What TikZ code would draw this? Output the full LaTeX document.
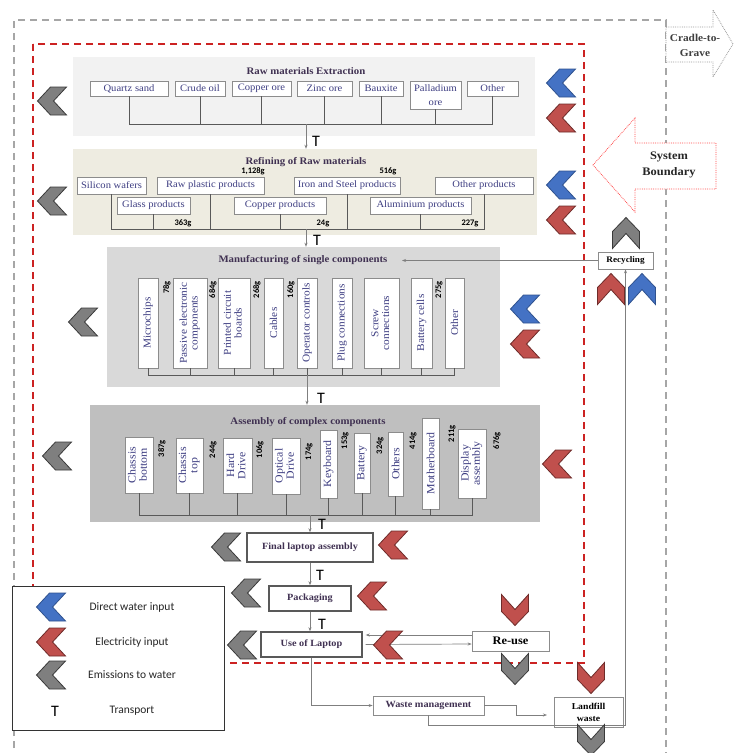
\documentclass[tikz,border=0pt]{standalone}
\usepackage{fontspec}
\usepackage{graphicx}
\setmainfont{Liberation Serif}[FakeStretch=1.08]
\newfontfamily\calib{Carlito}
\usetikzlibrary{arrows.meta}
\definecolor{rawf}{HTML}{F2F2F2}
\definecolor{reff}{HTML}{EEECE1}
\definecolor{manf}{HTML}{D9D9D9}
\definecolor{asmf}{HTML}{BFBFBF}
\definecolor{itemc}{RGB}{62,62,130}
\definecolor{titlec}{RGB}{64,49,82}
\definecolor{boxg}{HTML}{8C8C8C}
\definecolor{busc}{HTML}{595959}
\definecolor{flowc}{HTML}{7F7F7F}
\definecolor{wblue}{HTML}{4472C4}
\definecolor{wblued}{HTML}{2F528F}
\definecolor{ered}{HTML}{C0504D}
\definecolor{ereddk}{HTML}{6E2B29}
\definecolor{egray}{HTML}{7F7F7F}
\definecolor{egraydk}{HTML}{3A3A3A}
\definecolor{bred}{HTML}{CC2222}
\definecolor{bgray}{HTML}{A6A6A6}
\renewcommand\arraystretch{0.9}
\newcommand\vt[1]{\rotatebox{90}{\begin{tabular}{@{}c@{}}#1\end{tabular}}}
\newcommand\chevL[2]{\draw[#1, shift={#2}] (-14.5,0) -- (-1.5,-14) -- (14.5,-14) -- (1.5,0) -- (14.5,14) -- (-1.5,14) -- cycle;}
\newcommand\chevD[2]{\draw[#1, shift={#2}] (-13.5,-15.5) -- (0,-0.5) -- (13.5,-15.5) -- (13.5,1.5) -- (0,15.5) -- (-13.5,1.5) -- cycle;}
\newcommand\chevU[2]{\draw[#1, shift={#2}] (-13.5,15.5) -- (0,0.5) -- (13.5,15.5) -- (13.5,-1.5) -- (0,-15.5) -- (-13.5,-1.5) -- cycle;}
\tikzset{
 stage/.style={inner sep=0pt, draw=none},
 item/.style={draw=boxg, line width=0.6pt, fill=white, inner sep=0pt, text=itemc, align=center, font=\fontsize{9.8}{11}\selectfont},
 vitem/.style={draw=boxg, line width=0.6pt, fill=white, inner sep=0pt, text=itemc, font=\fontsize{10.5}{12}\selectfont},
 vitemB/.style={vitem, font=\fontsize{11}{12.5}\selectfont},
 ttl/.style={inner sep=0pt, text=titlec, font=\bfseries\fontsize{10}{12}\selectfont},
 num/.style={inner sep=0pt, font=\calib\bfseries\fontsize{8.5}{10}\selectfont},
 vnum/.style={num, rotate=90, anchor=east},
 tlab/.style={inner sep=0pt, font=\calib\fontsize{16}{16}\selectfont},
 bus/.style={draw=busc, line width=0.7pt},
 flow/.style={draw=flowc, line width=0.7pt, -{Stealth[length=4pt,width=3pt]}},
 mainbox/.style={draw=busc, line width=1.4pt, fill=white, inner sep=0pt, text=titlec, font=\bfseries\fontsize{9.5}{11}\selectfont},
 sidebox/.style={draw=boxg, line width=0.7pt, fill=white, inner sep=0pt, align=center},
 wchev/.style={fill=wblue, draw=wblued, line width=0.8pt},
 echev/.style={fill=ered, draw=ereddk, line width=0.8pt},
 gchev/.style={fill=egray, draw=egraydk, line width=0.8pt},
 leglab/.style={inner sep=0pt, font=\calib\fontsize{11.5}{13}\selectfont, text=black!85},
 graydash/.style={draw=bgray, line width=2pt, dash pattern=on 7pt off 5pt},
 reddash/.style={draw=bred, line width=1.8pt, dash pattern=on 7pt off 5pt},
}
\begin{document}
\begin{tikzpicture}[x=1pt,y=-1pt]
\useasboundingbox (0,0) rectangle (734,753);
\fill[white] (0,0) rectangle (734,753);
% boundaries
\draw[graydash] (14,760) -- (14,20) -- (666,20) -- (666,760);
\draw[reddash] (33,44) rectangle (584,663);
% Cradle-to-Grave arrow
\draw[draw=gray!80, densely dotted, line width=0.8pt, fill=white] (666,27) -- (713,27) -- (713,10) -- (733,44) -- (713,77) -- (713,62) -- (666,62) -- cycle;
\node[inner sep=0pt, align=center, text=black!75, font=\bfseries\fontsize{10.5}{15}\selectfont] (cg) at (695,45) {Cradle-to-\\Grave};
% System Boundary arrow
\draw[draw=red!70, densely dotted, line width=0.8pt, fill=white] (593,165) -- (635,118) -- (635,143) -- (716,143) -- (716,189) -- (635,189) -- (635,212) -- cycle;
\node[inner sep=0pt, align=center, text=black!85, font=\bfseries\fontsize{11.5}{16}\selectfont] (sb) at (669,165) {System\\Boundary};

% ---------- Raw materials ----------
\node[stage, fill=rawf, minimum width=462, minimum height=79] (raw) at (304,96.5) {};
\node[ttl] (rawt) at (306,71) {Raw materials Extraction};
\node[item, minimum width=78, minimum height=15] (qs) at (129,88.5) {Quartz sand};
\node[item, minimum width=50, minimum height=15] (co) at (200,88.5) {Crude oil};
\node[item, minimum width=59, minimum height=15] (cpo) at (261.5,88.5) {Copper ore};
\node[item, minimum width=55, minimum height=15] (zo) at (324.5,88.5) {Zinc ore};
\node[item, minimum width=44, minimum height=15] (bx) at (381,88.5) {Bauxite};
\node[item, minimum width=51, minimum height=28, font=\fontsize{9.8}{14}\selectfont] (pd) at (435.5,95) {Palladium\\ore};
\node[item, minimum width=51, minimum height=15] (oth) at (492.5,88.5) {Other};
\coordinate (rawbus) at (306,124);
\foreach \n in {qs,co,cpo,zo,bx,pd,oth} \draw[bus] (\n.south) |- (rawbus);

% ---------- Refining ----------
\node[stage, fill=reff, minimum width=464, minimum height=86] (ref) at (305,192) {};
\node[ttl] (reft) at (306,162) {Refining of Raw materials};
\node[item, minimum width=69, minimum height=17] (sw) at (111.5,185.5) {Silicon wafers};
\node[item, minimum width=107, minimum height=17] (rpp) at (210.5,185.5) {Raw plastic products};
\node[item, minimum width=106, minimum height=17] (isp) at (347,185.5) {Iron and Steel products};
\node[item, minimum width=98, minimum height=17] (op) at (484,185.5) {Other products};
\node[item, minimum width=73, minimum height=17] (gp) at (153.5,205.5) {Glass products};
\node[item, minimum width=92, minimum height=17] (cp) at (280,205.5) {Copper products};
\node[item, minimum width=101, minimum height=17] (ap) at (420.5,205.5) {Aluminium products};
\node[num] (n1128) at (253,171) {1,128g};
\node[num] (n516) at (388,171) {516g};
\node[num] (n363) at (183,223) {363g};
\node[num] (n24) at (323,223) {24g};
\node[num] (n227) at (470,223) {227g};
\coordinate (refbus) at (306,229);
\foreach \n in {sw,gp,rpp,cp,isp,ap,op} \draw[bus] (\n.south) |- (refbus);
\draw[flow] (rawbus) -- (rawbus |- ref.north);
\node[tlab] (t1) at (316,141) {T};

% ---------- Manufacturing ----------
\node[stage, fill=manf, minimum width=393, minimum height=140] (man) at (303.5,317) {};
\node[ttl] (mant) at (303,260) {Manufacturing of single components};
\node[vitem, minimum width=20, minimum height=90] (mc) at (148,323) {\rotatebox{90}{Microchips}};
\node[vitem, minimum width=34, minimum height=90] (pec) at (190,323) {\vt{Passive electronic\\components}};
\node[vitem, minimum width=32, minimum height=90] (pcb) at (234,323) {\vt{Printed circuit\\boards}};
\node[vitem, minimum width=19, minimum height=90] (cab) at (273.5,323) {\rotatebox{90}{Cables}};
\node[vitem, minimum width=20, minimum height=90] (opc) at (307,323) {\rotatebox{90}{Operator controls}};
\node[vitem, minimum width=20, minimum height=90] (plc) at (342,323) {\rotatebox{90}{Plug connections}};
\node[vitem, minimum width=35, minimum height=90] (scc) at (381.5,323) {\vt{Screw\\connections}};
\node[vitem, minimum width=21, minimum height=90] (bc) at (421.5,323) {\rotatebox{90}{Battery cells}};
\node[vitem, minimum width=19, minimum height=90] (moth) at (454.5,323) {\rotatebox{90}{Other}};
\node[vnum] (n78) at (167,281) {78g};
\node[vnum] (n684) at (213,281) {684g};
\node[vnum] (n268) at (257,281) {268g};
\node[vnum] (n160) at (291,281) {160g};
\node[vnum] (n275) at (439,281) {275g};
\coordinate (manbus) at (307,375);
\foreach \n in {mc,pec,pcb,cab,opc,plc,scc,bc,moth} \draw[bus] (\n.south) |- (manbus);
\draw[flow] (refbus) -- (refbus |- man.north);
\node[tlab] (t2) at (317,240) {T};

% ---------- Assembly ----------
\node[stage, fill=asmf, minimum width=450, minimum height=117] (asm) at (315,463.5) {};
\node[ttl] (asmt) at (308,422) {Assembly of complex components};
\node[vitemB, minimum width=28, minimum height=56] (cb) at (139,465) {\vt{Chassis\\bottom}};
\node[vitemB, minimum width=27, minimum height=55] (ct) at (189.5,465.5) {\vt{Chassis\\top}};
\node[vitemB, minimum width=29, minimum height=55] (hd) at (237.5,465.5) {\vt{Hard\\Drive}};
\node[vitemB, minimum width=28, minimum height=56] (od) at (286,466) {\vt{Optical\\Drive}};
\node[vitemB, minimum width=17, minimum height=68] (kb) at (328.5,464) {\rotatebox{90}{Keyboard}};
\node[vitemB, minimum width=16, minimum height=60] (bt) at (362,463) {\rotatebox{90}{Battery}};
\node[vitemB, minimum width=15, minimum height=64] (ots) at (395.5,464) {\rotatebox{90}{Others}};
\node[vitemB, minimum width=17, minimum height=91] (mb) at (430.5,463.5) {\rotatebox{90}{Motherboard}};
\node[vitemB, minimum width=28, minimum height=69] (da) at (472,463.5) {\vt{Display\\assembly}};
\node[vnum] (n387) at (162,440) {387g};
\node[vnum] (n244) at (213,441) {244g};
\node[vnum] (n106) at (260,441) {106g};
\node[vnum] (n174) at (309,443) {174g};
\node[vnum] (n153) at (345,432) {153g};
\node[vnum] (n324) at (380,437) {324g};
\node[vnum] (n414) at (413,432) {414g};
\node[vnum] (n211) at (452,425) {211g};
\node[vnum] (n676) at (497,432) {676g};
\coordinate (asmbus) at (310,515);
\foreach \n in {cb,ct,hd,od,kb,bt,ots,mb,da} \draw[bus] (\n.south) |- (asmbus);
\draw[flow] (manbus) -- (manbus |- asm.north);
\node[tlab] (t3) at (321,398) {T};

% ---------- Lower chain ----------
\node[mainbox, minimum width=126, minimum height=29] (fla) at (310,547.5) {Final laptop assembly};
\node[mainbox, minimum width=82, minimum height=25] (pk) at (310,598.5) {Packaging};
\node[mainbox, minimum width=101, minimum height=25] (use) at (311.5,644.5) {Use of Laptop};
\draw[flow] (asmbus) -- (asmbus |- fla.north);
\draw[flow] (fla.south) -- (fla.south |- pk.north);
\draw[flow] (pk.south) -- (pk.south |- use.north);
\node[tlab] (t4) at (322,524) {T};
\node[tlab] (t5) at (320,575) {T};
\node[tlab] (t6) at (322,624) {T};

\node[sidebox, minimum width=77, minimum height=20, font=\bfseries\fontsize{11.5}{13}\selectfont] (reuse) at (510.5,641) {Re-use};
\node[sidebox, minimum width=111, minimum height=19, text=titlec, font=\bfseries\fontsize{9.5}{11}\selectfont] (wm) at (428.5,705.5) {Waste management};
\node[sidebox, minimum width=69, minimum height=30, font=\bfseries\fontsize{9}{12}\selectfont] (lf) at (588.5,712) {Landfill\\waste};
\node[sidebox, minimum width=55, minimum height=17, font=\bfseries\fontsize{8.5}{10}\selectfont] (rec) at (625.5,260.5) {Recycling};

\draw[flow] ([yshift=6pt]reuse.west) -- ([xshift=3pt,yshift=9.5pt]use.east);
\draw[flow] ([xshift=3pt]use.east) -- ([yshift=-3pt]reuse.west);
\draw[flow] (use.south) |- (wm.west);
\coordinate (lfin) at (547,715);
\draw[flow] (wm.east) -- ++(32,0) |- (lfin);
\coordinate (recbase) at (625.5,725);
\draw[flow] (wm.south) |- (recbase) -- (rec.south);
\coordinate (recin) at (402,260.5);
\draw[flow] (rec.west) -- (recin);

% ---------- chevrons ----------
\chevL{gchev}{(52,101)}
\chevL{gchev}{(52,201)}
\chevL{gchev}{(83,322)}
\chevL{gchev}{(57,456)}
\chevL{gchev}{(226,547)}
\chevL{gchev}{(246,593)}
\chevL{gchev}{(242,645)}
\chevL{wchev}{(561,83)}
\chevL{wchev}{(561,185)}
\chevL{wchev}{(525,309)}
\chevL{echev}{(561,118)}
\chevL{echev}{(561,220)}
\chevL{echev}{(525,344)}
\chevL{echev}{(557,464)}
\chevL{echev}{(393,545)}
\chevL{echev}{(372,596)}
\chevL{echev}{(388,645)}
\chevD{echev}{(515,610)}
\chevD{gchev}{(515,669)}
\chevD{echev}{(591,678)}
\chevD{gchev}{(591,740)}
\chevU{gchev}{(626,233)}
\chevU{echev}{(611,289)}
\chevU{wchev}{(642,289)}

% ---------- legend ----------
\node[draw=black!80, line width=0.9pt, fill=white, minimum width=212, minimum height=144, inner sep=0pt] (leg) at (118,658) {};
\chevL{wchev}{(51,607)}
\chevL{echev}{(51,642)}
\chevL{gchev}{(51,675)}
\node[tlab] (tleg) at (55,711) {T};
\node[leglab] (l1) at (132,607) {Direct water input};
\node[leglab] (l2) at (132,642) {Electricity input};
\node[leglab] (l3) at (132,675) {Emissions to water};
\node[leglab] (l4) at (132,711) {Transport};
\end{tikzpicture}
\end{document}
